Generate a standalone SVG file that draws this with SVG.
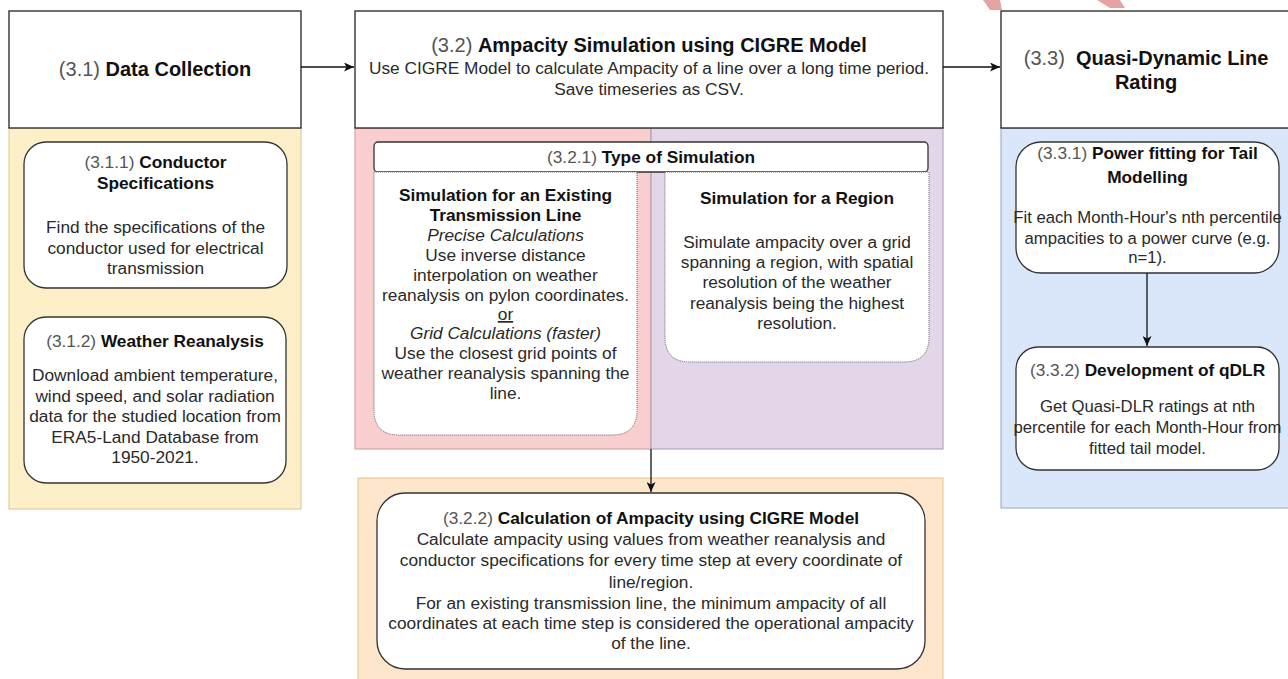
<svg xmlns="http://www.w3.org/2000/svg" width="1288" height="679" viewBox="0 0 1288 679">
<style>
text{font-family:"Liberation Sans",Arial,sans-serif;fill:#2a2a2a;text-anchor:middle}
.h{font-size:20px}
.t{font-size:17.3px}
.s{font-size:16.7px}
.b{font-weight:bold;fill:#111}
.g{fill:#555}
.i{font-style:italic}
.box{fill:#fff;stroke:#222;stroke-width:1.3}
.sub{fill:#fff;stroke:#333;stroke-width:1.3}
.dot{fill:#fff;stroke:#666;stroke-width:1;stroke-dasharray:1 1}
.conn{stroke:#111;stroke-width:1.3;fill:none}
</style>
<defs>
<marker id="arr" markerWidth="11" markerHeight="9" refX="10" refY="4.5" orient="auto" markerUnits="userSpaceOnUse">
<path d="M0,0 L10,4.5 L0,9 L2.5,4.5 Z" fill="#111"/>
</marker>
</defs>
<rect width="1288" height="679" fill="#fff"/>

<g id="watermark" fill="#e6a3a3">
<polygon points="983,0 1000,0 1002,10 990,10"/>
<polygon points="1097,0 1120,0 1125,8 1110,8"/>
</g>

<g id="panels">
<rect x="9" y="128" width="292" height="381" fill="#fdf0c9" stroke="#d9c58a" stroke-width="1"/>
<rect x="355" y="128" width="296" height="321" fill="#f8cfce" stroke="#c99a98" stroke-width="1"/>
<rect x="651" y="128" width="292" height="321" fill="#e2d6e8" stroke="#a89bb0" stroke-width="1"/>
<rect x="1001" y="128" width="300" height="380" fill="#dae7fb" stroke="#95a6be" stroke-width="1"/>
<rect x="358" y="478" width="585" height="215" fill="#fde6cb" stroke="#e3c48c" stroke-width="1"/>
</g>

<g id="n31">
<rect class="box" x="9" y="11" width="292" height="117"/>
<text class="h" x="155" y="76"><tspan class="g">(3.1) </tspan><tspan class="b">Data Collection</tspan></text>
</g>

<g id="n32">
<rect class="box" x="355" y="11" width="588" height="117"/>
<text class="h" x="649" y="52"><tspan class="g">(3.2) </tspan><tspan class="b">Ampacity Simulation using CIGRE Model</tspan></text>
<text class="t" x="649" y="74">Use CIGRE Model to calculate Ampacity of a line over a long time period.</text>
<text class="t" x="649" y="95">Save timeseries as CSV.</text>
</g>

<g id="n33">
<rect class="box" x="1001" y="11" width="300" height="117"/>
<text class="h" x="1146" y="65"><tspan class="g">(3.3)&#160; </tspan><tspan class="b">Quasi-Dynamic Line</tspan></text>
<text class="h b" x="1146" y="89">Rating</text>
</g>

<g id="n311">
<rect class="sub" x="24" y="142" width="263" height="146" rx="22"/>
<text class="t" x="155.5" y="168"><tspan class="g">(3.1.1) </tspan><tspan class="b">Conductor</tspan></text>
<text class="t b" x="155.5" y="189">Specifications</text>
<text class="t" x="155.5" y="233">Find the specifications of the</text>
<text class="t" x="155.5" y="254">conductor used for electrical</text>
<text class="t" x="155.5" y="274">transmission</text>
</g>

<g id="n312">
<rect class="sub" x="24" y="317" width="262" height="166" rx="22"/>
<text class="t" x="155" y="347"><tspan class="g">(3.1.2) </tspan><tspan class="b">Weather Reanalysis</tspan></text>
<text class="t" x="155" y="381">Download ambient temperature,</text>
<text class="t" x="155" y="401.5">wind speed, and solar radiation</text>
<text class="t" x="155" y="422">data for the studied location from</text>
<text class="t" x="155" y="442.5">ERA5-Land Database from</text>
<text class="t" x="155" y="463">1950-2021.</text>
</g>

<g id="n321">
<rect class="sub" x="374" y="142" width="554" height="30" rx="4"/>
<text class="t" x="651" y="163"><tspan class="g">(3.2.1) </tspan><tspan class="b">Type of Simulation</tspan></text>
</g>

<g id="n321a">
<path class="dot" d="M374,172 H637 V410 Q637,435 612,435 H399 Q374,435 374,410 Z"/>
<text class="t b" x="505.5" y="201">Simulation for an Existing</text>
<text class="t b" x="505.5" y="221">Transmission Line</text>
<text class="t i" x="505.5" y="241">Precise Calculations</text>
<text class="t" x="505.5" y="261">Use inverse distance</text>
<text class="t" x="505.5" y="281">interpolation on weather</text>
<text class="t" x="505.5" y="301">reanalysis on pylon coordinates.</text>
<text class="t" x="505.5" y="320" text-decoration="underline">or</text>
<text class="t i" x="505.5" y="339">Grid Calculations (faster)</text>
<text class="t" x="505.5" y="359">Use the closest grid points of</text>
<text class="t" x="505.5" y="379">weather reanalysis spanning the</text>
<text class="t" x="505.5" y="399">line.</text>
</g>

<g id="n321b">
<path class="dot" d="M665,172 H929 V337 Q929,362 904,362 H690 Q665,362 665,337 Z"/>
<text class="t b" x="797" y="204">Simulation for a Region</text>
<text class="t" x="797" y="248">Simulate ampacity over a grid</text>
<text class="t" x="797" y="268">spanning a region, with spatial</text>
<text class="t" x="797" y="288">resolution of the weather</text>
<text class="t" x="797" y="309">reanalysis being the highest</text>
<text class="t" x="797" y="329">resolution.</text>
</g>

<g id="n322">
<rect class="sub" x="377" y="493" width="548" height="176" rx="28"/>
<text class="t" x="651" y="524"><tspan class="g">(3.2.2) </tspan><tspan class="b">Calculation of Ampacity using CIGRE Model</tspan></text>
<text class="t" x="651" y="545">Calculate ampacity using values from weather reanalysis and</text>
<text class="t" x="651" y="566">conductor specifications for every time step at every coordinate of</text>
<text class="t" x="651" y="588">line/region.</text>
<text class="t" x="651" y="609">For an existing transmission line, the minimum ampacity of all</text>
<text class="t" x="651" y="629">coordinates at each time step is considered the operational ampacity</text>
<text class="t" x="651" y="649">of the line.</text>
</g>

<g id="n331">
<rect class="sub" x="1016" y="142" width="263" height="131" rx="25"/>
<text class="t" x="1147.5" y="159"><tspan class="g">(3.3.1) </tspan><tspan class="b">Power fitting for Tail</tspan></text>
<text class="t b" x="1147.5" y="183">Modelling</text>
<text class="s" x="1147.5" y="223">Fit each Month-Hour's nth percentile</text>
<text class="s" x="1147.5" y="244">ampacities to a power curve (e.g.</text>
<text class="s" x="1147.5" y="263">n=1).</text>
</g>

<g id="n332">
<rect class="sub" x="1016" y="347" width="263" height="123" rx="22"/>
<text class="t" x="1147.5" y="376"><tspan class="g">(3.3.2) </tspan><tspan class="b">Development of qDLR</tspan></text>
<text class="s" x="1147.5" y="412">Get Quasi-DLR ratings at nth</text>
<text class="s" x="1147.5" y="433">percentile for each Month-Hour from</text>
<text class="s" x="1147.5" y="454">fitted tail model.</text>
</g>

<g id="connectors">
<line class="conn" x1="301" y1="67" x2="354" y2="67" marker-end="url(#arr)"/>
<line class="conn" x1="943" y1="67" x2="1000" y2="67" marker-end="url(#arr)"/>
<line class="conn" x1="651" y1="449" x2="651" y2="492" marker-end="url(#arr)"/>
<line class="conn" x1="1147" y1="273" x2="1147" y2="346" marker-end="url(#arr)"/>
</g>
</svg>
